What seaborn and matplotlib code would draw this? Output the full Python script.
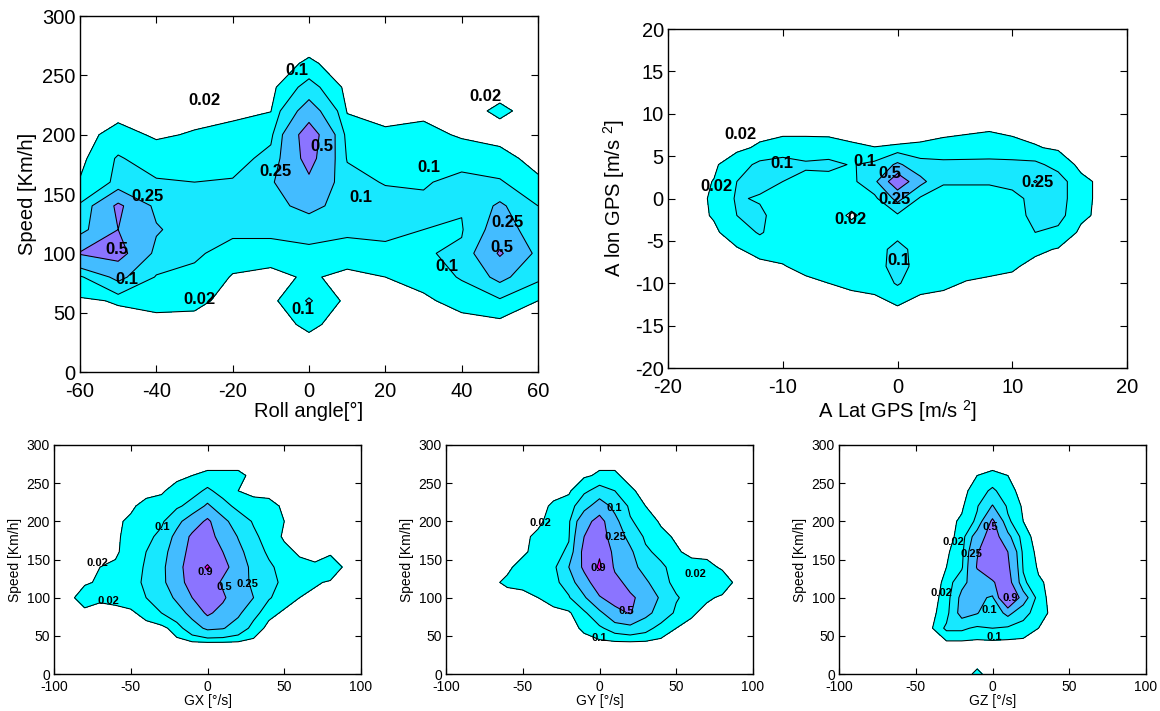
import numpy as np
import matplotlib
matplotlib.use("Agg")
import matplotlib.pyplot as plt
import seaborn as sns

# ---------------- data (density normalised to peak, in percent) ----------------
LEVELS = [0.02, 0.1, 0.25, 0.5, 0.9]

# Roll angle vs speed
roll_angle = [-60, -50, -40, -30, -20, -10, 0, 10, 20, 30, 40, 50, 60]
roll_speed = [300, 280, 260, 240, 220, 200, 180, 160, 140, 120, 100, 80, 60, 40, 20, 0]
roll_density_pct = [
    [0, 0, 0, 0, 0, 0, 0, 0, 0, 0, 0, 0, 0],
    [0, 0, 0, 0, 0, 0, 0, 0, 0, 0, 0, 0, 0],
    [0, 0, 0, 0, 0, 0, 2.7, 0, 0, 0, 0, 0, 0],
    [0, 0, 0, 0, 0, 0, 14, 0, 0, 0, 0, 0, 0],
    [0, 0, 0, 0, 0.5, 1.8, 35, 1.5, 0, 0.5, 0, 3, 0],
    [0, 4, 1.2, 2.5, 4, 7, 66, 6, 3, 4, 1.2, 0, 0],
    [0, 11, 5, 5, 5, 14, 60, 9, 6, 9, 6, 4, 0],
    [2.5, 12, 11, 10, 11, 23, 45, 15, 9, 9, 13, 11, 3],
    [11, 55, 20, 17, 16, 20, 30, 18, 16, 12, 11, 28, 10],
    [18, 50, 27, 15, 13, 13, 15, 12, 13, 10, 9, 35, 15],
    [52, 60, 20, 12, 5, 5, 7, 6, 7, 9, 12, 53, 20],
    [8, 30, 9, 7, 1.5, 0, 3, 0, 2, 4, 11, 30, 12],
    [1, 2.5, 4, 3.5, 0, 0, 11, 0, 0, 1, 4, 8, 2],
    [0, 0, 0, 0, 0, 0, 3, 0, 0, 0, 0, 0, 0],
    [0, 0, 0, 0, 0, 0, 0, 0, 0, 0, 0, 0, 0],
    [0, 0, 0, 0, 0, 0, 0, 0, 0, 0, 0, 0, 0],
]

# Lateral vs longitudinal acceleration
acc_lat = [-18, -16, -14, -12, -10, -8, -6, -4, -2, 0, 2, 4, 6, 8, 10, 12, 14, 16, 18]
acc_lon = [10, 8, 6, 4, 2, 0, -2, -4, -6, -8, -10, -12, -14]
acc_density_pct = [
    [0, 0, 0, 0, 0, 0, 0, 0, 0, 0, 0, 0, 0, 0, 0, 0, 0, 0, 0],
    [0, 0, 0, 0, 0, 0, 0, 0, 0, 0, 0, 0, 1, 1.8, 0.5, 0, 0, 0, 0],
    [0, 0, 0.5, 3, 6, 6, 5.5, 3, 2.1, 2.5, 3, 5, 5.5, 6, 5, 2.5, 1, 0, 0],
    [0, 1, 6, 12, 13, 11, 12, 9.5, 12, 28, 14, 12, 12, 12, 12, 12, 7, 0, 0],
    [0, 2.2, 10, 13, 10, 8, 7, 7, 20, 70, 30, 11, 11, 11, 12, 26, 14, 4, 0],
    [0, 2.8, 11, 9, 6, 5, 5, 5, 7, 30, 8, 6, 6, 6, 8, 12, 14, 4, 0],
    [0, 2.5, 10, 12, 5, 5, 5, 1, 5, 8, 5, 5, 5, 5, 7, 12, 13, 3.5, 0],
    [0, 1, 5, 11, 5, 5, 5, 5, 5, 6, 5, 5, 5, 5, 5, 10, 8, 0.5, 0],
    [0, 0, 1.5, 4, 5, 5, 5, 5, 5, 14, 5, 5, 5, 5, 5, 3.5, 1.5, 0, 0],
    [0, 0, 0, 0.5, 1.5, 4.5, 5, 5, 5, 15, 5, 5, 5, 5, 3, 0, 0, 0, 0],
    [0, 0, 0, 0, 0, 0, 2, 3.5, 4, 11, 4, 3.5, 1.5, 0, 0, 0, 0, 0, 0],
    [0, 0, 0, 0, 0, 0, 0, 0, 1, 3, 1, 0, 0, 0, 0, 0, 0, 0, 0],
    [0, 0, 0, 0, 0, 0, 0, 0, 0, 0, 0, 0, 0, 0, 0, 0, 0, 0, 0],
]

# Gyro rates vs speed
gyro_rate = [-90, -80, -70, -60, -50, -40, -30, -20, -10, 0, 10, 20, 30, 40, 50, 60, 70, 80, 90]
gyro_speed = [280, 260, 240, 220, 200, 180, 160, 140, 120, 100, 80, 60, 40, 20, 0]
gx_density_pct = [
    [0, 0, 0, 0, 0, 0, 0, 0, 0, 0, 0, 0, 0, 0, 0, 0, 0, 0, 0],
    [0, 0, 0, 0, 0, 0, 0, 0, 2, 3, 3, 3, 1, 0, 0, 0, 0, 0, 0],
    [0, 0, 0, 0, 0, 0, 1, 5, 6, 12, 6, 2, 0, 0, 0, 0, 0, 0, 0],
    [0, 0, 0, 0, 1, 4, 5, 8, 14, 28, 14, 7, 5, 4, 1, 0, 0, 0, 0],
    [0, 0, 0, 1, 3, 3, 8, 20, 35, 55, 30, 16, 9, 5, 2, 0, 0, 0, 0],
    [0, 0, 0, 1, 4, 7, 13, 30, 55, 60, 40, 24, 12, 6, 1, 0, 0, 0, 0],
    [0, 0, 0, 1, 5, 10, 18, 35, 60, 65, 50, 30, 16, 8, 4, 1, 0, 0, 0],
    [0, 0, 2, 3, 6, 11, 20, 40, 65, 95, 60, 35, 20, 12, 6, 4, 3, 9, 0],
    [0, 1, 3, 4, 6, 12, 20, 38, 62, 70, 45, 32, 22, 13, 8, 5, 3, 1, 0],
    [0, 6, 3, 4, 5, 10, 16, 28, 50, 62, 55, 30, 25, 11, 5, 2, 0, 0, 0],
    [0, 0, 0, 0, 1, 4, 10, 18, 30, 55, 40, 28, 14, 4, 1, 0, 0, 0, 0],
    [0, 0, 0, 0, 0, 0, 0, 5, 18, 28, 26, 18, 6, 0, 0, 0, 0, 0, 0],
    [0, 0, 0, 0, 0, 0, 0, 0, 0, 0, 0, 0, 0, 0, 0, 0, 0, 0, 0],
    [0, 0, 0, 0, 0, 0, 0, 0, 0, 0, 0, 0, 0, 0, 0, 0, 0, 0, 0],
    [0, 0, 0, 0, 0, 0, 0, 0, 0, 0, 0, 0, 0, 0, 0, 0, 0, 0, 0],
]
gy_density_pct = [
    [0, 0, 0, 0, 0, 0, 0, 0, 0, 0, 0, 0, 0, 0, 0, 0, 0, 0, 0],
    [0, 0, 0, 0, 0, 0, 0, 0, 1, 3, 3, 0, 0, 0, 0, 0, 0, 0, 0],
    [0, 0, 0, 0, 0, 0, 0, 1, 8, 14, 10, 3, 0, 0, 0, 0, 0, 0, 0],
    [0, 0, 0, 0, 0, 0, 3, 5, 18, 35, 20, 8, 2, 0, 0, 0, 0, 0, 0],
    [0, 0, 0, 0, 0, 1, 4, 8, 40, 60, 30, 11, 6, 1, 0, 0, 0, 0, 0],
    [0, 0, 0, 0, 1, 3, 5, 9, 50, 65, 35, 20, 8, 4, 1, 0, 0, 0, 0],
    [0, 0, 0, 0, 1, 4, 6, 12, 58, 85, 40, 28, 12, 7, 3, 0, 0, 0, 0],
    [0, 0, 0, 1, 4, 5, 7, 25, 55, 96, 45, 32, 18, 12, 6, 5, 4, 1, 0],
    [0, 0, 1, 3, 4, 5, 7, 15, 40, 65, 60, 40, 28, 14, 7, 5, 4, 6, 0],
    [0, 0, 0, 0, 0, 2, 5, 9, 22, 48, 60, 55, 40, 22, 11, 6, 3, 1, 0],
    [0, 0, 0, 0, 0, 0, 0, 1, 8, 20, 42, 52, 30, 18, 8, 3, 0, 0, 0],
    [0, 0, 0, 0, 0, 0, 0, 0, 3, 8, 15, 18, 14, 6, 2, 0, 0, 0, 0],
    [0, 0, 0, 0, 0, 0, 0, 0, 0, 0, 0, 0, 0, 0, 0, 0, 0, 0, 0],
    [0, 0, 0, 0, 0, 0, 0, 0, 0, 0, 0, 0, 0, 0, 0, 0, 0, 0, 0],
    [0, 0, 0, 0, 0, 0, 0, 0, 0, 0, 0, 0, 0, 0, 0, 0, 0, 0, 0],
]
gz_density_pct = [
    [0, 0, 0, 0, 0, 0, 0, 0, 0, 0, 0, 0, 0, 0, 0, 0, 0, 0, 0],
    [0, 0, 0, 0, 0, 0, 0, 0, 2, 3, 2, 0, 0, 0, 0, 0, 0, 0, 0],
    [0, 0, 0, 0, 0, 0, 0, 0, 5, 12, 4, 0, 0, 0, 0, 0, 0, 0, 0],
    [0, 0, 0, 0, 0, 0, 0, 1, 9, 26, 8, 1, 0, 0, 0, 0, 0, 0, 0],
    [0, 0, 0, 0, 0, 0, 0, 3, 12, 55, 12, 2, 0, 0, 0, 0, 0, 0, 0],
    [0, 0, 0, 0, 0, 0, 0, 4, 35, 65, 30, 4, 0, 0, 0, 0, 0, 0, 0],
    [0, 0, 0, 0, 0, 0, 1, 6, 48, 70, 50, 7, 0, 0, 0, 0, 0, 0, 0],
    [0, 0, 0, 0, 0, 0, 2, 8, 52, 62, 55, 9, 1, 0, 0, 0, 0, 0, 0],
    [0, 0, 0, 0, 0, 0, 3, 20, 35, 48, 62, 12, 3, 0, 0, 0, 0, 0, 0],
    [0, 0, 0, 0, 0, 0, 4, 30, 30, 22, 92, 35, 4, 0, 0, 0, 0, 0, 0],
    [0, 0, 0, 0, 0, 0, 6, 32, 26, 14, 30, 14, 5, 0, 0, 0, 0, 0, 0],
    [0, 0, 0, 0, 0, 1, 12, 12, 8, 10, 8, 6, 2, 0, 0, 0, 0, 0, 0],
    [0, 0, 0, 0, 0, 0, 0, 0, 0, 0, 0, 0, 0, 0, 0, 0, 0, 0, 0],
    [0, 0, 0, 0, 0, 0, 0, 0, 0, 0, 0, 0, 0, 0, 0, 0, 0, 0, 0],
    [0, 0, 0, 0, 0, 0, 0, 0, 3, 0, 0, 0, 0, 0, 0, 0, 0, 0, 0],
]

# ---------------- style ----------------
sns.set_theme(style="ticks")
plt.rcParams.update({
    "font.family": ["Liberation Sans", "DejaVu Sans"],
    "mathtext.fontset": "custom",
    "mathtext.rm": "Liberation Sans",
    "mathtext.default": "regular",
    "axes.unicode_minus": False,
    "axes.linewidth": 1.0,
    "axes.edgecolor": "black",
    "xtick.direction": "in",
    "ytick.direction": "in",
    "xtick.top": True,
    "ytick.right": True,
    "xtick.color": "black",
    "ytick.color": "black",
    "text.color": "black",
    "axes.labelcolor": "black",
})


def cool(v):
    t = (v - LEVELS[0]) / (LEVELS[-1] - LEVELS[0])
    return (t, 1 - t, 1.0)


FILL_COLORS = [cool(v) for v in LEVELS]

fig = plt.figure(figsize=(11.6, 7.11), dpi=100)
W, H = 1160.0, 711.0


def add_ax(left, top, right, bottom):
    return fig.add_axes([left / W, 1 - bottom / H, (right - left) / W, (bottom - top) / H])


def draw(ax, x, y, zpct, labels, lab_fs, tick_fs, tick_len, xpad):
    z = np.array(zpct, dtype=float) / 100.0
    X, Y = np.meshgrid(x, y)
    ax.contourf(X, Y, z, levels=LEVELS + [1.05], colors=FILL_COLORS)
    ax.contour(X, Y, z, levels=LEVELS, colors="black", linewidths=0.75)
    for lvl, lx, ly in labels:
        ax.text(lx, ly, f"{lvl:g}", ha="center", va="center", fontsize=lab_fs,
                fontweight="bold", color="black")
    ax.tick_params(labelsize=tick_fs, length=tick_len, width=0.8)
    ax.tick_params(axis="x", pad=xpad)
    ax.tick_params(axis="y", pad=3)
    for s in ax.spines.values():
        s.set_visible(True)


# top-left: roll angle
ax1 = add_ax(80, 16, 538, 372)
draw(ax1, roll_angle, roll_speed, roll_density_pct,
     [(0.02, -27.5, 229), (0.1, -3.3, 254), (0.5, 3.5, 190), (0.25, -8.7, 169),
      (0.25, -42.3, 148), (0.5, -50.3, 103), (0.1, -47.7, 78), (0.02, -28.7, 61),
      (0.1, -1.7, 53), (0.1, 13.5, 147), (0.1, 31.4, 172), (0.02, 46.1, 232),
      (0.25, 52, 126), (0.5, 50.6, 105), (0.1, 36, 89)],
     12, 14.5, 5, 7)
ax1.set_xlim(-60, 60)
ax1.set_ylim(0, 300)
ax1.set_xticks(range(-60, 61, 20))
ax1.set_yticks(range(0, 301, 50))
ax1.set_xlabel("Roll angle[°]", fontsize=14.5, labelpad=1)
ax1.set_ylabel("Speed [Km/h]", fontsize=14.5, labelpad=4)

# top-right: accelerations
ax2 = add_ax(668, 29, 1127, 368)
draw(ax2, acc_lat, acc_lon, acc_density_pct,
     [(0.02, -13.7, 7.6), (0.1, -10.1, 4.1), (0.02, -15.8, 1.4), (0.1, -2.8, 4.4),
      (0.5, -0.7, 2.9), (0.25, -0.3, -0.1), (0.02, -4.1, -2.5), (0.1, 0.1, -7.3),
      (0.25, 12.2, 1.9)],
     12, 14.5, 5, 7)
ax2.set_xlim(-20, 20)
ax2.set_ylim(-20, 20)
ax2.set_xticks(range(-20, 21, 10))
ax2.set_yticks(range(-20, 21, 5))
ax2.set_xlabel(r"A Lat GPS [m/s $^{2}$]", fontsize=14.5, labelpad=1)
ax2.set_ylabel(r"A lon GPS [m/s $^{2}$]", fontsize=14.5, labelpad=6)

# bottom row: gyro rates
gyro_panels = [
    (54, "GX [°/s]", gx_density_pct,
     [(0.1, -29.4, 193), (0.02, -71.6, 146), (0.02, -64.6, 95), (0.9, -1.6, 133),
      (0.5, 10.8, 114), (0.25, 26.3, 118)]),
    (446, "GY [°/s]", gy_density_pct,
     [(0.02, -38.4, 198), (0.1, 9.6, 218), (0.25, 10.5, 180), (0.9, -1.1, 139),
      (0.5, 17.3, 83), (0.02, 62.7, 131), (0.1, -0.4, 47)]),
    (839, "GZ [°/s]", gz_density_pct,
     [(0.5, -1.1, 193), (0.02, -25.7, 173), (0.25, -13.6, 157), (0.02, -33, 106),
      (0.9, 11.6, 99), (0.1, -2.2, 84), (0.1, 1.1, 48)]),
]
for left, xlabel, dens, labs in gyro_panels:
    ax = add_ax(left, 445, left + 307, 674)
    draw(ax, gyro_rate, gyro_speed, dens, labs, 8, 10, 4, 4.5)
    ax.set_xlim(-100, 100)
    ax.set_ylim(0, 300)
    ax.set_xticks(range(-100, 101, 50))
    ax.set_yticks(range(0, 301, 50))
    ax.set_xlabel(xlabel, fontsize=10, labelpad=0)
    ax.set_ylabel("Speed [Km/h]", fontsize=10, labelpad=3)

fig.savefig("out.png", dpi=100, facecolor="white")
